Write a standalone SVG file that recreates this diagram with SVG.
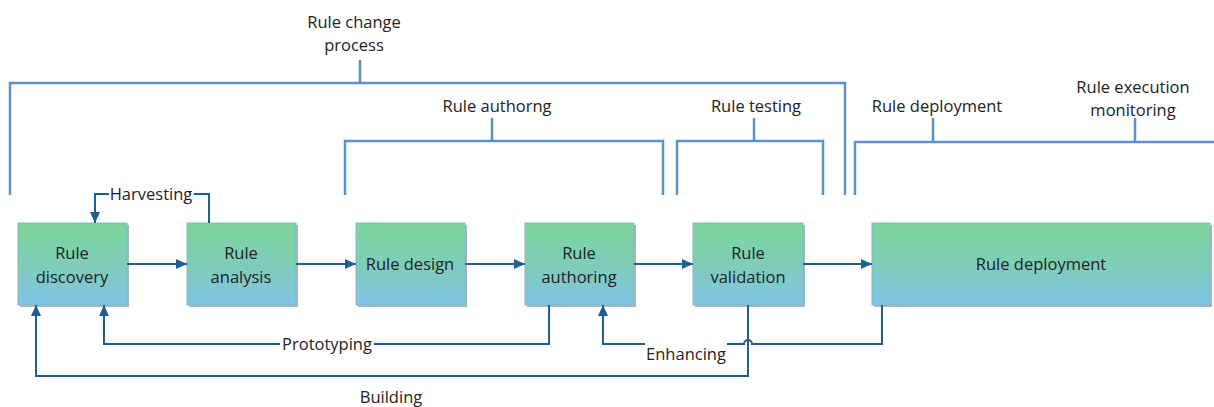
<svg xmlns="http://www.w3.org/2000/svg" width="1214" height="407" viewBox="0 0 1214 407">
<defs>
<linearGradient id="g" x1="0" y1="0" x2="0" y2="1">
<stop offset="0" stop-color="#7bd699"/>
<stop offset="0.5" stop-color="#7ecdb8"/>
<stop offset="1" stop-color="#80c3e6"/>
</linearGradient>
<marker id="ah" markerUnits="userSpaceOnUse" markerWidth="12" markerHeight="12" viewBox="0 0 12 12" refX="11" refY="6" orient="auto">
<path d="M0,1 L11,6 L0,11 Z" fill="#1f5f8b"/>
</marker>
<style>
.box{fill:url(#g);stroke:#86b6c6;stroke-width:1}
.sh{fill:#5a7f90;opacity:0.55}
.t{font-family:"Open Sans","Liberation Sans",Arial,sans-serif;font-size:16.5px;fill:#222;text-anchor:middle}
.c{fill:none;stroke:#1f5f8b;stroke-width:2}
.a{marker-end:url(#ah)}
.br{fill:none;stroke:#5b8fd0;stroke-width:2.5}
</style>
</defs>
<rect width="1214" height="407" fill="#fff"/>

<g id="brackets">
<path class="br" d="M10,195 V83 H845 V195 M360,83 V60"/>
<path class="br" d="M345,195 V141 H663 V195 M492,141 V118"/>
<path class="br" d="M677,195 V141 H823 V195 M754,141 V118"/>
<path class="br" d="M855,195 V142 H1214 M933,142 V118 M1135,142 V118"/>
<text class="t" x="354" y="28">Rule change</text>
<text class="t" x="354" y="51">process</text>
<text class="t" x="497" y="112">Rule authorng</text>
<text class="t" x="756" y="112">Rule testing</text>
<text class="t" x="937" y="112">Rule deployment</text>
<text class="t" x="1133" y="93">Rule execution</text>
<text class="t" x="1133" y="116">monitoring</text>
</g>

<g id="n-discovery">
<rect class="sh" x="20" y="225" width="109" height="82"/>
<rect class="box" x="18" y="223" width="109" height="82"/>
<text class="t" x="72" y="259">Rule</text>
<text class="t" x="72" y="283">discovery</text>
</g>
<g id="n-analysis">
<rect class="sh" x="189" y="225" width="109" height="82"/>
<rect class="box" x="187" y="223" width="109" height="82"/>
<text class="t" x="241" y="259">Rule</text>
<text class="t" x="241" y="283">analysis</text>
</g>
<g id="n-design">
<rect class="sh" x="358" y="225" width="109" height="82"/>
<rect class="box" x="356" y="223" width="109" height="82"/>
<text class="t" x="410" y="270">Rule design</text>
</g>
<g id="n-authoring">
<rect class="sh" x="527" y="225" width="109" height="82"/>
<rect class="box" x="525" y="223" width="109" height="82"/>
<text class="t" x="579" y="259">Rule</text>
<text class="t" x="579" y="283">authoring</text>
</g>
<g id="n-validation">
<rect class="sh" x="695" y="225" width="110" height="82"/>
<rect class="box" x="693" y="223" width="110" height="82"/>
<text class="t" x="748" y="259">Rule</text>
<text class="t" x="748" y="283">validation</text>
</g>
<g id="n-deployment">
<rect class="sh" x="874" y="225" width="338" height="82"/>
<rect class="box" x="872" y="223" width="338" height="82"/>
<text class="t" x="1041" y="270">Rule deployment</text>
</g>

<g id="connectors">
<path class="c a" d="M127,264 H187"/>
<path class="c a" d="M296,264 H356"/>
<path class="c a" d="M465,264 H525"/>
<path class="c a" d="M634,264 H693"/>
<path class="c a" d="M803,264 H872"/>
<path class="c a" d="M209,223 V194 H194 M109,194 H95 V223"/>
<path class="c a" d="M549,305 V344 H374 M280,344 H104 V305"/>
<path class="c a" d="M748,305 V376 H36 V305"/>
<path class="c a" d="M882,305 V344 H752 A4,4 0 0 0 744,344 H727 M645,344 H603 V305"/>
<text class="t" x="151" y="200">Harvesting</text>
<text class="t" x="327" y="350">Prototyping</text>
<text class="t" x="686" y="360">Enhancing</text>
<text class="t" x="391" y="403">Building</text>
</g>
</svg>
